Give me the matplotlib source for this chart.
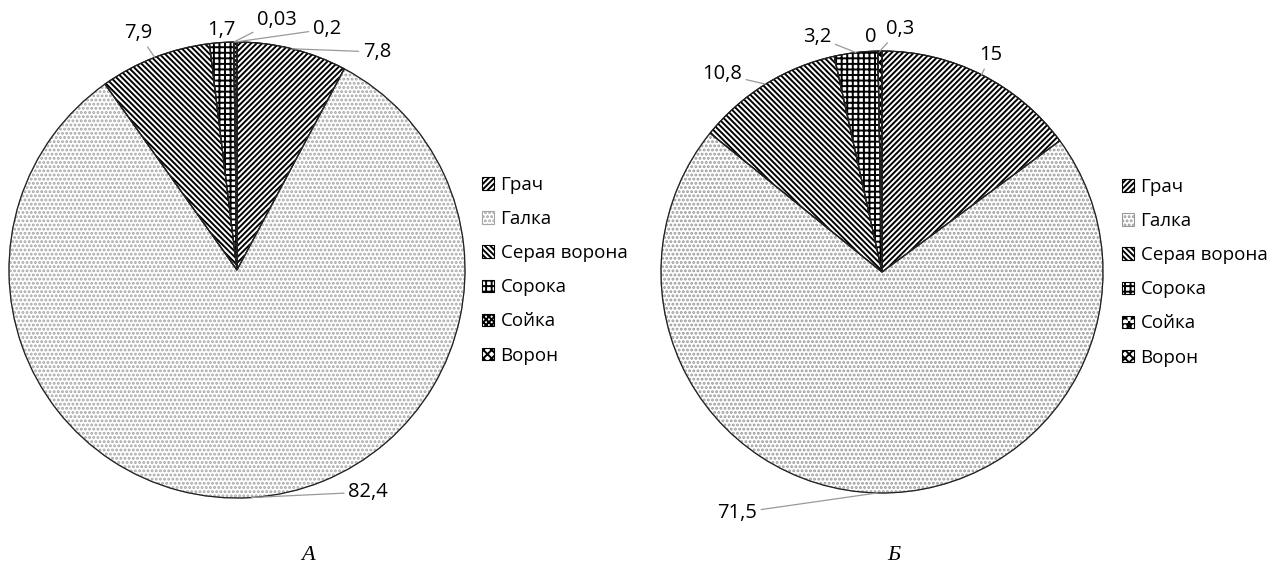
import matplotlib
matplotlib.use("Agg")
import matplotlib.pyplot as plt
from matplotlib.patches import Patch
import numpy as np

species = ["Грач", "Галка", "Серая ворона", "Сорока", "Сойка", "Ворон"]
values_a = [7.8, 82.4, 7.9, 1.7, 0.03, 0.2]
labels_a = ["7,8", "82,4", "7,9", "1,7", "0,03", "0,2"]
values_b = [15, 71.5, 10.8, 3.2, 0, 0.3]
labels_b = ["15", "71,5", "10,8", "3,2", "0", "0,3"]
captions = ["А", "Б"]

hatches_a = ["//////", "....", "\\\\\\\\\\\\", "+++", "xxxxxx", "xxxx"]
hatches_b = ["//////", "....", "\\\\\\\\\\\\", "+++", "**", "xxxx"]
edge_a = ["black", "#a5a5a5", "black", "black", "black", "black"]
edge_b = ["black", "#9a9a9a", "black", "black", "black", "black"]

W, H = 1269, 567
fig = plt.figure(figsize=(W / 100, H / 100), dpi=100)
plt.rcParams["hatch.linewidth"] = 1.4
FONT = ["Open Sans", "DejaVu Sans"]


def px_axes(cx, cy, r):
    return fig.add_axes([(cx - r) / W, (H - cy - r) / H, 2 * r / W, 2 * r / H])


def to_data(cx, cy, r, x, y):
    return ((x - cx) / r, (cy - y) / r)


def draw_pie(cx, cy, r, values, labels, hatches, edge_cols, label_pos, leaders,
             legend_xy, caption, cap_xy):
    ax = px_axes(cx, cy, r)
    wedges, _ = ax.pie(values, startangle=90, counterclock=False, radius=1,
                       wedgeprops=dict(facecolor="white", linewidth=0.8))
    for w, h, ec in zip(wedges, hatches, edge_cols):
        w.set_hatch(h)
        w.set_edgecolor(ec)
    ax.pie(values, startangle=90, counterclock=False, radius=1,
           wedgeprops=dict(fill=False, edgecolor="#222222", linewidth=0.9))
    ax.set_xlim(-1, 1)
    ax.set_ylim(-1, 1)
    ax.set_aspect("equal")
    ax.axis("off")
    for w, lab, (tx, ty), lead in zip(wedges, labels, label_pos, leaders):
        ang = np.deg2rad((w.theta1 + w.theta2) / 2)
        px, py = np.cos(ang), np.sin(ang)
        dx, dy = to_data(cx, cy, r, tx, ty)
        if lead:
            ax.annotate(lab, xy=(px, py), xytext=(dx, dy), ha="center", va="center",
                        fontsize=14.5, family=FONT, color="black", annotation_clip=False,
                        arrowprops=dict(arrowstyle="-", color="#999999", lw=0.9,
                                        shrinkA=1, shrinkB=0))
        else:
            ax.text(dx, dy, lab, ha="center", va="center", fontsize=14.5,
                    family=FONT, color="black", clip_on=False)
    handles = [Patch(facecolor="white", edgecolor=ec, hatch=h, linewidth=0.8)
               for h, ec in zip(hatches, edge_cols)]
    fig.legend(handles, species, loc="upper left",
               bbox_to_anchor=(legend_xy[0] / W, 1 - legend_xy[1] / H),
               frameon=False, prop=dict(family=FONT, size=13.5),
               handlelength=0.64, handleheight=0.64, handletextpad=0.35,
               labelspacing=0.86, borderaxespad=0, borderpad=0)
    fig.text(cap_xy[0] / W, 1 - cap_xy[1] / H, caption, ha="center", va="center",
             fontsize=16, family=["Liberation Serif", "DejaVu Serif"], style="italic")


draw_pie(237, 270, 228, values_a, labels_a, hatches_a, edge_a,
         label_pos=[(377, 52), (368, 492), (138, 33), (221, 30), (277, 20), (327, 29)],
         leaders=[True, True, True, False, True, True],
         legend_xy=(482, 176), caption=captions[0], cap_xy=(308, 556))

draw_pie(882, 272, 221, values_b, labels_b, hatches_b, edge_b,
         label_pos=[(991, 55), (737, 513), (722, 74), (817, 37), (871, 37), (900, 29)],
         leaders=[True, True, True, True, False, True],
         legend_xy=(1122, 178), caption=captions[1], cap_xy=(894, 556))

fig.savefig("out.png", dpi=100)
